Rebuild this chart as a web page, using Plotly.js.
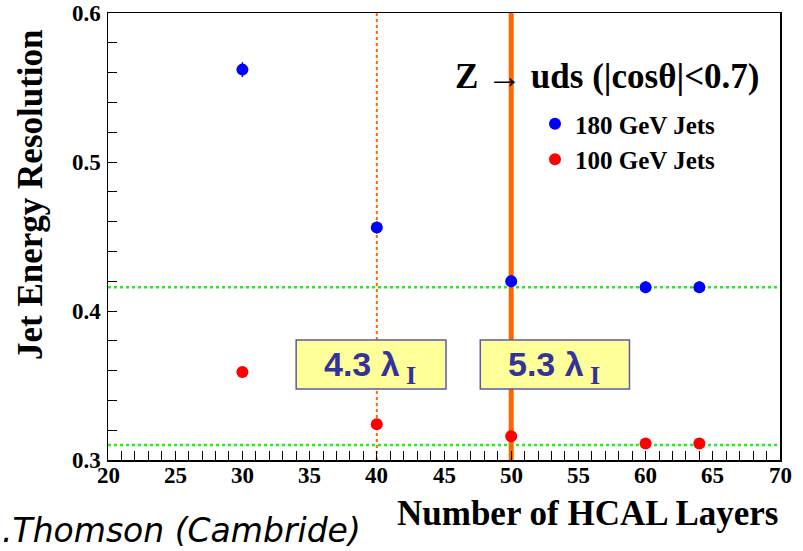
<!DOCTYPE html>
<html>
<head>
<meta charset="utf-8">
<script src="https://cdn.plot.ly/plotly-3.0.1.min.js"></script>
<style>html,body{margin:0;padding:0;background:#fff;}#chart{width:803px;height:551px;}</style>
</head>
<body>
<div id="chart"></div>
<script>
// Data
var layers = [30, 40, 50, 60, 64];
var res180 = [0.562, 0.456, 0.420, 0.416, 0.416];
var err180 = [0.005, 0.004, 0.004, 0.004, 0.004];
var res100 = [0.359, 0.324, 0.316, 0.311, 0.311];
var err100 = [0.002, 0.003, 0.003, 0.003, 0.003];
var seriesNames = ["<b>180 GeV Jets</b>", "<b>100 GeV Jets</b>"];
var refLevels = [0.416, 0.310];          // green dotted reference lines
var depthLayers = [40, 50];              // vertical lines
var depthLabels = ["<b>4.3 λ</b>", "<b>5.3 λ</b>"];
var depthSub = "<b>I</b>";
// tick marks (every 1 layer / every 0.02) and labelled ticks
var xTicks = [20, 21, 22, 23, 24, 25, 26, 27, 28, 29, 30, 31, 32, 33, 34, 35, 36, 37, 38, 39, 40,
              41, 42, 43, 44, 45, 46, 47, 48, 49, 50, 51, 52, 53, 54, 55, 56, 57, 58, 59, 60,
              61, 62, 63, 64, 65, 66, 67, 68, 69, 70];
var yTicks = [0.30, 0.32, 0.34, 0.36, 0.38, 0.40, 0.42, 0.44, 0.46, 0.48, 0.50,
              0.52, 0.54, 0.56, 0.58, 0.60];
var xLabelVals = [20, 25, 30, 35, 40, 45, 50, 55, 60, 65, 70];
var xLabelText = ["20", "25", "30", "35", "40", "45", "50", "55", "60", "65", "70"];
var yLabelVals = [0.3, 0.4, 0.5, 0.6];
var yLabelText = ["0.3", "0.4", "0.5", "0.6"];

var serif = "Liberation Serif";

var traces = [
  {x: layers, y: res180, name: seriesNames[0], type: "scatter", mode: "markers",
   marker: {color: "#0000ff", size: 12},
   error_y: {type: "data", array: err180, visible: true, color: "#0000ff", thickness: 1.5, width: 0}},
  {x: layers, y: res100, name: seriesNames[1], type: "scatter", mode: "markers",
   marker: {color: "#ff0000", size: 12},
   error_y: {type: "data", array: err100, visible: true, color: "#ff0000", thickness: 1.5, width: 0}}
];

var shapes = [];
refLevels.forEach(function (v) {
  shapes.push({type: "line", xref: "paper", x0: 0, x1: 1, yref: "y", y0: v, y1: v,
    line: {color: "#22ee22", width: 2.5, dash: "dot"}, layer: "below"});
});
shapes.push({type: "line", xref: "x", x0: depthLayers[0], x1: depthLayers[0], yref: "paper", y0: 0, y1: 1,
  line: {color: "#ff6600", width: 2, dash: "dot"}, layer: "below"});
shapes.push({type: "line", xref: "x", x0: depthLayers[1], x1: depthLayers[1], yref: "paper", y0: 0, y1: 1,
  line: {color: "#ff6600", width: 5}, layer: "below"});
// label boxes
var boxX = [[34.0, 45.15], [47.7, 58.8]];
boxX.forEach(function (b) {
  shapes.push({type: "rect", xref: "x", yref: "y", x0: b[0], x1: b[1], y0: 0.3477, y1: 0.3805,
    fillcolor: "#ffff99", line: {color: "#5a5aa8", width: 1.5}, layer: "above"});
});

var annotations = [];
// tick labels placed on the axes' own scales
xLabelVals.forEach(function (v, i) {
  annotations.push({xref: "x", yref: "paper", x: v, y: 0, xanchor: "center", yanchor: "top",
    yshift: -1, showarrow: false, text: "<b>" + xLabelText[i] + "</b>",
    font: {family: serif, size: 23, color: "#000"}});
});
yLabelVals.forEach(function (v, i) {
  annotations.push({xref: "paper", yref: "y", x: 0, y: v, xanchor: "right", yanchor: "middle",
    xshift: -5, showarrow: false, text: "<b>" + yLabelText[i] + "</b>",
    font: {family: serif, size: 23, color: "#000"}});
});
depthLabels.forEach(function (t, i) {
  var c = (boxX[i][0] + boxX[i][1]) / 2;
  annotations.push({xref: "x", yref: "y", x: c + 2.31, y: 0.3644,
    text: t, showarrow: false, xanchor: "right", yanchor: "middle",
    font: {family: "Liberation Sans", size: 34, color: "#333399"}});
  annotations.push({xref: "x", yref: "y", x: c + 2.95, y: 0.3566,
    text: depthSub, showarrow: false, xanchor: "center", yanchor: "middle",
    font: {family: serif, size: 26, color: "#333399"}});
});
annotations.push({xref: "paper", yref: "paper", x: (762 - 108) / 672, y: (460 - 76) / 447,
  xanchor: "right", yanchor: "middle", showarrow: false,
  text: "<b>Z → uds (|cosθ|&lt;0.7)</b>",
  font: {family: serif, size: 35, color: "#000"}});
annotations.push({xref: "paper", yref: "paper", x: 1.0, y: (460 - 513) / 447,
  xanchor: "right", yanchor: "middle", showarrow: false,
  text: "<b>Number of HCAL Layers</b>",
  font: {family: serif, size: 35, color: "#000"}});
annotations.push({xref: "paper", yref: "paper", x: (30 - 108) / 672, y: (460 - 195) / 447,
  xanchor: "center", yanchor: "middle", showarrow: false, textangle: -90,
  text: "<b>Jet Energy Resolution</b>",
  font: {family: serif, size: 35, color: "#000"}});
annotations.push({xref: "paper", yref: "paper", x: (0 - 108) / 672, y: (460 - 530) / 447,
  xanchor: "left", yanchor: "middle", showarrow: false,
  text: "<i>.Thomson (Cambride)</i>",
  font: {family: "DejaVu Sans", size: 33, color: "#000"}});

var layout = {
  width: 803, height: 551,
  margin: {l: 108, r: 23, t: 13, b: 91},
  paper_bgcolor: "#fff", plot_bgcolor: "#fff",
  font: {family: serif, color: "#000"},
  showlegend: true,
  legend: {x: (535 - 108) / 672, y: (460 - 101) / 447, xanchor: "left", yanchor: "top",
    bgcolor: "rgba(0,0,0,0)", font: {family: serif, size: 25, color: "#000"},
    itemwidth: 30, tracegroupgap: 0},
  xaxis: {range: [20, 70], tickmode: "array", tickvals: xTicks, showticklabels: false,
    ticks: "inside", ticklen: 9, tickwidth: 1,
    tickcolor: "#000", showline: true, linecolor: "#000", linewidth: 1.5, mirror: true,
    showgrid: false, zeroline: false},
  yaxis: {range: [0.3, 0.6], tickmode: "array", tickvals: yTicks, showticklabels: false,
    ticks: "inside", ticklen: 9, tickwidth: 1, tickcolor: "#000",
    showline: true, linecolor: "#000", linewidth: 1.5, mirror: true,
    showgrid: false, zeroline: false},
  shapes: shapes,
  annotations: annotations
};

Plotly.newPlot("chart", traces, layout, {displayModeBar: false, staticPlot: true});
</script>
</body>
</html>
